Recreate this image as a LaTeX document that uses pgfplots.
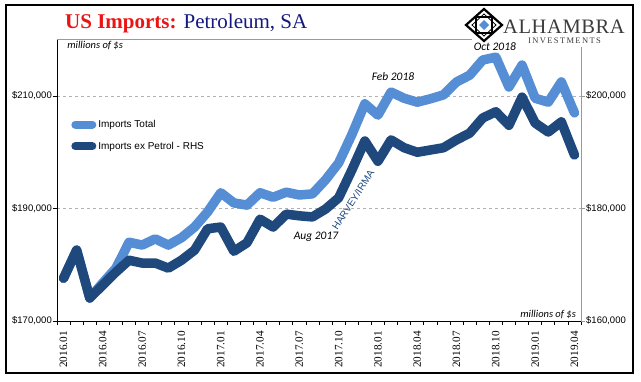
\documentclass[border=0pt]{standalone}
\usepackage{pgfplots}
\pgfplotsset{compat=1.18}
\usepackage{fontspec}
\setmainfont{Liberation Serif}
\newfontfamily\arial{Liberation Sans}
\newfontfamily\calibri{Carlito}
\newfontfamily\logofont[LetterSpace=3]{Liberation Serif}
\newfontfamily\logosmall[LetterSpace=16]{Liberation Serif}
\definecolor{lightblue}{RGB}{85,142,213}
\definecolor{darkblue}{RGB}{31,73,125}
\definecolor{titlered}{RGB}{235,20,20}
\definecolor{titlenavy}{RGB}{20,25,125}
\definecolor{logogray}{RGB}{60,60,60}
\begin{document}
\begin{tikzpicture}
\begin{axis}[
  at={(57pt,60pt)}, anchor=south west, scale only axis,
  width=524pt, height=282pt,
  xmin=-0.5, xmax=39.5, ymin=170000, ymax=220133,
  axis lines*=left, axis line style={black, line width=0.8pt},
  clip=false, scaled y ticks=false, scaled x ticks=false,
  tick align=outside,
  xtick={0,3,...,39},
  xticklabels={2016.01,2016.04,2016.07,2016.10,2017.01,2017.04,2017.07,2017.10,2018.01,2018.04,2018.07,2018.10,2019.01,2019.04},
  major x tick style={draw=none},
  minor xtick={-0.5,0.5,...,39.5},
  minor x tick style={black, line width=0.8pt},
  minor tick length=4pt,
  major tick length=4pt,
  x tick label style={font=\fontsize{11.2}{12}\selectfont, rotate=90, anchor=east, inner sep=1pt},
  xticklabel shift=5pt,
  ytick={170000,190000,210000},
  yticklabels={{\$170,000},{\$190,000},{\$210,000}},
  y tick style={black, line width=0.8pt},
  y tick label style={font=\arial\fontsize{9.5}{10}\selectfont, inner sep=1pt},
  ymajorgrids, major grid style={dashed, gray!60, line width=0.6pt},
]
\addplot[lightblue, line width=9.5pt, line join=round, line cap=round] coordinates {
(0,177600) (1,182600) (2,174100) (3,176800) (4,179400) (5,184000) (6,183500) (7,184600)
(8,183500) (9,184800) (10,186700) (11,189400) (12,192800) (13,191000) (14,190600) (15,192800)
(16,192000) (17,192900) (18,192400) (19,192600) (20,195100) (21,198100) (22,203100) (23,208600)
(24,206600) (25,210700) (26,209600) (27,208900) (28,209500) (29,210200) (30,212500) (31,213700)
(32,216400) (33,216900) (34,211600) (35,215500) (36,209600) (37,208900) (38,212500) (39,207000)
};
\end{axis}
\begin{axis}[
  at={(57pt,60pt)}, anchor=south west, scale only axis,
  width=524pt, height=282pt,
  xmin=-0.5, xmax=39.5, ymin=160000, ymax=210133,
  axis x line*=top, axis y line*=right,
  axis line style={gray!80, line width=0.8pt},
  clip=false, scaled y ticks=false, scaled x ticks=false,
  tick align=outside,
  xtick=\empty,
  ytick={160000,180000,200000},
  yticklabels={{\$160,000},{\$180,000},{\$200,000}},
  y tick style={gray!80, line width=0.8pt},
  major tick length=4pt,
  y tick label style={font=\arial\fontsize{9.5}{10}\selectfont, inner sep=1pt},
  legend style={at={(axis description cs:0.027,0.72)}, anchor=north west, draw=none, fill=none,
    font=\arial\fontsize{10}{12}\selectfont, row sep=9pt, inner sep=0pt},
  legend cell align=left,
  legend image code/.code={\draw[#1, line cap=round, line width=8pt] (0pt,0pt) -- (17pt,0pt);},
]
\addlegendimage{lightblue}
\addlegendentry{Imports Total}
\addplot[darkblue, line width=9.5pt, line join=round, line cap=round] coordinates {
(0,167600) (1,172600) (2,164100) (3,166400) (4,168700) (5,170800) (6,170300) (7,170300)
(8,169400) (9,170800) (10,172600) (11,176400) (12,176700) (13,172400) (14,173900) (15,178100)
(16,176700) (17,179000) (18,178700) (19,178500) (20,179900) (21,181900) (22,186800) (23,192000)
(24,188400) (25,192200) (26,190800) (27,190000) (28,190400) (29,190800) (30,192200) (31,193400)
(32,196100) (33,197200) (34,194800) (35,199800) (36,195200) (37,193600) (38,195400) (39,189500)
};
\addlegendentry{Imports ex Petrol - RHS}
\node[font=\calibri\itshape\fontsize{11.5}{12}\selectfont] at (axis cs:25.15,203378) {Feb 2018};
\node[font=\calibri\itshape\fontsize{11.5}{12}\selectfont] at (axis cs:19.27,174933) {Aug 2017};
\node[font=\arial\fontsize{10}{12}\selectfont, text=darkblue, rotate=57] at (axis cs:22.1,181500) {HARVEY/IRMA};
\coordinate (oct) at (axis cs:32.93,208711);
\node[font=\calibri\itshape\fontsize{10.5}{12}\selectfont, anchor=base west] at (axis description cs:0.013,0.965) {millions of \$s};
\node[font=\calibri\itshape\fontsize{10.5}{12}\selectfont, anchor=base east] at (axis description cs:0.997,0.012) {millions of \$s};
\end{axis}
\begin{scope}[x=1pt,y=1pt]
% logo
\fill[white] (472,334) rectangle (631,375);
\draw[black, line width=2.2pt, line join=miter] (466,356) -- (484,372) -- (502,356) -- (484,340) -- cycle;
\draw[black, line width=1.2pt] (476,348) rectangle (492,364);
\draw[black, line width=0.8pt] (472,356) -- (484,367) -- (496,356) -- (484,345) -- cycle;
\fill[lightblue] (479,356) -- (484,361) -- (489,356) -- (484,351) -- cycle;
\node[anchor=base west, text=logogray, inner sep=0pt] at (503,347) {\logofont\fontsize{20.5}{22}\selectfont ALHAMBRA};
\node[anchor=base west, text=logogray, inner sep=0pt] at (528,337) {\logosmall\fontsize{8.5}{9}\selectfont INVESTMENTS};
\node[font=\calibri\itshape\fontsize{11.5}{12}\selectfont] at (oct) {Oct 2018};
% title
\node[anchor=base west, inner sep=0pt] at (65,352) {\fontsize{21}{24}\selectfont\textcolor{titlered}{\bfseries US Imports:} \textcolor{titlenavy}{Petroleum, SA}};
% frame
\draw[black, line width=1.5pt] (6,8) rectangle (633,376);
\end{scope}
\pgfresetboundingbox
\path[use as bounding box] (0pt,0pt) rectangle (641pt,381pt);
\end{tikzpicture}
\end{document}
